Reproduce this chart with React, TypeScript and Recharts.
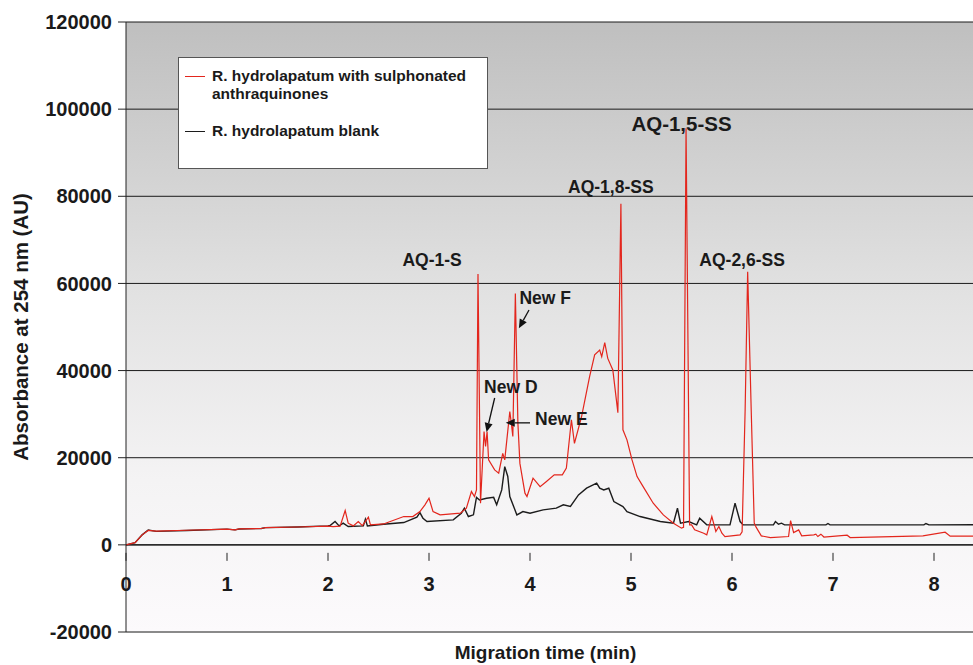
import {
  LineChart,
  Line,
  CartesianGrid,
  XAxis,
  YAxis,
  ReferenceLine,
  ReferenceDot,
} from "recharts";

// electropherogram (time in min, absorbance in AU)
const sampleTime = [
  0, 0.09, 0.16, 0.22, 0.3, 0.6, 1.0, 1.08, 1.12, 1.34, 1.38, 1.7, 2.0, 2.05, 2.12, 2.17, 2.2, 2.25,
  2.3, 2.34, 2.4, 2.42, 2.55, 2.75, 2.84, 2.91, 2.96, 3.0, 3.04, 3.11, 3.31, 3.37, 3.42, 3.45, 3.47,
  3.485, 3.51, 3.545, 3.56, 3.575, 3.59, 3.65, 3.69, 3.73, 3.75, 3.8, 3.815, 3.83, 3.855, 3.88, 3.9,
  3.95, 3.97, 4.03, 4.1, 4.16, 4.24, 4.32, 4.36, 4.41, 4.44, 4.51, 4.59, 4.64, 4.69, 4.71, 4.74,
  4.77, 4.82, 4.87, 4.9, 4.92, 4.96, 5.01, 5.06, 5.12, 5.22, 5.32, 5.42, 5.5, 5.52, 5.545, 5.58,
  5.6, 5.63, 5.72, 5.75, 5.8, 5.84, 5.87, 5.9, 5.93, 6.08, 6.1, 6.13, 6.155, 6.19, 6.22, 6.24, 6.29,
  6.38, 6.56, 6.58, 6.61, 6.66, 6.69, 6.81, 6.83, 6.85, 6.88, 6.91, 7.14, 7.17, 7.89, 8.11, 8.16,
  8.4,
];
const sampleAbs = [
  0, 500, 2300, 3300, 3150, 3350, 3600, 3450, 3650, 3750, 3950, 4100, 4300, 4200, 4300, 7870, 4970,
  4350, 5350, 4430, 6350, 4590, 4800, 6500, 6500, 7640, 9180, 10700, 7640, 6880, 7270, 8420, 12230,
  11100, 12600, 62170, 9560, 26000, 22560, 26000, 19500, 17200, 16450, 21000, 19500, 30600, 27900,
  24860, 57700, 28000, 18700, 11860, 11100, 15300, 13370, 14500, 16060, 16060, 17600, 28700, 23300,
  29400, 38600, 43600, 44700, 43200, 46400, 42800, 40150, 30350, 78300, 26400, 24100, 19500, 15670,
  13370, 9560, 6880, 4970, 3830, 4000, 95600, 4600, 4590, 3440, 2680, 2300, 6500, 3060, 4200, 2680,
  1910, 2300, 3000, 31000, 62700, 31000, 5000, 4000, 2060, 1680, 1910, 5580, 2830, 3440, 2060, 2300,
  2450, 1910, 2450, 1800, 2220, 1680, 2060, 2910, 2000, 2000,
];

const blankTime = [
  0, 0.09, 0.16, 0.22, 0.3, 0.6, 1.0, 1.08, 1.12, 1.34, 1.38, 1.7, 2.0, 2.02, 2.07, 2.11, 2.15, 2.2,
  2.35, 2.37, 2.39, 2.55, 2.75, 2.88, 2.91, 2.94, 2.98, 3.24, 3.32, 3.35, 3.39, 3.44, 3.47, 3.5,
  3.57, 3.64, 3.67, 3.72, 3.75, 3.78, 3.8, 3.87, 3.93, 4.0, 4.13, 4.26, 4.33, 4.4, 4.48, 4.56, 4.66,
  4.69, 4.73, 4.78, 4.83, 4.92, 4.96, 5.09, 5.29, 5.42, 5.46, 5.49, 5.57, 5.65, 5.68, 5.75, 5.98,
  6.03, 6.08, 6.11, 6.41, 6.43, 6.46, 6.49, 6.52, 6.93, 6.95, 6.97, 7.9, 7.92, 7.95, 8.4,
];
const blankAbs = [
  0, 500, 2300, 3400, 3100, 3300, 3600, 3450, 3650, 3750, 3950, 4100, 4350, 4430, 5350, 4350, 4970,
  4200, 4350, 5900, 4350, 4740, 5120, 6350, 7400, 6120, 5350, 5730, 7270, 8400, 6500, 6900, 10900,
  10300, 10700, 10900, 9200, 12600, 17960, 15700, 11100, 6880, 7640, 7270, 8030, 8420, 9180, 8800,
  11470, 13000, 14150, 13000, 12600, 13000, 9930, 8800, 7640, 6500, 5350, 4970, 8400, 4970, 5350,
  4590, 6120, 4590, 4590, 9560, 5350, 4590, 4590, 5350, 4740, 4970, 4590, 4590, 4900, 4590, 4590,
  4900, 4590, 4600,
];

const seriesNames = ["R. hydrolapatum with sulphonated anthraquinones", "R. hydrolapatum blank"];
const seriesColors = ["#e3261d", "#1c1c1c"];

const xTicks = [0, 1, 2, 3, 4, 5, 6, 7, 8];
const yTicks = [-20000, 0, 20000, 40000, 60000, 80000, 100000, 120000];

// peak labels: [text, time, absorbance, size]
const peakLabels: [string, number, number, number][] = [
  ["AQ-1-S", 3.03, 65400, 17.5],
  ["New F", 4.15, 56700, 17.5],
  ["New D", 3.81, 36200, 17.5],
  ["New E", 4.31, 28900, 17.5],
  ["AQ-1,8-SS", 4.8, 82100, 17.5],
  ["AQ-1,5-SS", 5.5, 96800, 20.5],
  ["AQ-2,6-SS", 6.1, 65400, 17.5],
];

// arrows: from (t, abs) to (t, abs)
const arrows: [number, number, number, number][] = [
  [3.99, 53900, 3.89, 49700],
  [3.65, 33700, 3.57, 25900],
  [4.0, 28000, 3.76, 28000],
];

const W = 973;
const H = 665;
const TOP = 22;
const BOTTOM = 33;
const LEFT = 126;
const Y_MIN = -20000;
const Y_MAX = 120000;
const X_MAX = 8.386;
const FONT = "'Liberation Sans', Arial, Helvetica, sans-serif";

const zeroOffset = ((H - TOP - BOTTOM) * (0 - Y_MIN)) / (Y_MAX - Y_MIN);

const sampleData = sampleTime.map((t, i) => ({ t, v: sampleAbs[i] }));
const blankData = blankTime.map((t, i) => ({ t, v: blankAbs[i] }));

function XTick(props: any) {
  const { x, y, payload } = props;
  const y0 = y - zeroOffset;
  return (
    <g>
      <line x1={x} y1={y0} x2={x} y2={y0 + 8} stroke="#222" />
      <text
        x={x}
        y={y0 + 38}
        textAnchor="middle"
        fontFamily={FONT}
        fontWeight="bold"
        fontSize={20}
        fill="#1a1a1a"
      >
        {payload.value}
      </text>
    </g>
  );
}

function Arrow(props: any) {
  const { x1, y1, x2, y2 } = props;
  if ([x1, y1, x2, y2].some((v) => typeof v !== "number")) return null;
  const a = Math.atan2(y2 - y1, x2 - x1);
  const L = 9;
  const w = 4;
  const bx = x2 - L * Math.cos(a);
  const by = y2 - L * Math.sin(a);
  const px = -Math.sin(a) * w;
  const py = Math.cos(a) * w;
  return (
    <g>
      <line x1={x1} y1={y1} x2={bx} y2={by} stroke="#111" strokeWidth={1.3} />
      <polygon points={`${x2},${y2} ${bx + px},${by + py} ${bx - px},${by - py}`} fill="#111" />
    </g>
  );
}

export default function App() {
  return (
    <div style={{ position: "absolute", left: 0, top: 0, width: W, height: H, background: "#fff" }}>
      <LineChart
        width={W}
        height={H}
        margin={{ top: TOP, right: 0, bottom: 0, left: 0 }}
      >
        <defs>
          <linearGradient id="plotBg" x1="0" y1="0" x2="0" y2="1">
            <stop offset="0%" stopColor="#bfbfbf" />
            <stop offset="45%" stopColor="#e2e2e2" />
            <stop offset="75%" stopColor="#f4f3f4" />
            <stop offset="100%" stopColor="#fcfafc" />
          </linearGradient>
        </defs>
        <CartesianGrid vertical={false} stroke="#1a1a1a" fill="url(#plotBg)" />
        <XAxis
          type="number"
          dataKey="t"
          domain={[0, X_MAX]}
          ticks={xTicks}
          allowDataOverflow
          height={BOTTOM}
          tickLine={false}
          axisLine={{ stroke: "#8a8a8a", strokeWidth: 1.5 }}
          tick={<XTick />}
          label={{
            content: (p: any) => (
              <text
                x={p.viewBox.x + p.viewBox.width / 2 - 4}
                y={p.viewBox.y + 27}
                textAnchor="middle"
                fontFamily={FONT}
                fontWeight="bold"
                fontSize={19}
                fill="#1a1a1a"
              >
                Migration time (min)
              </text>
            ),
          }}
        />
        <YAxis
          type="number"
          domain={[Y_MIN, Y_MAX]}
          ticks={yTicks}
          width={LEFT}
          tickSize={8}
          tickMargin={6}
          axisLine={{ stroke: "#222" }}
          tickLine={{ stroke: "#222" }}
          tick={{ fontFamily: FONT, fontWeight: "bold", fontSize: 20, fill: "#1a1a1a" }}
          label={{
            content: (p: any) => {
              const cx = 20;
              const cy = p.viewBox.y + p.viewBox.height / 2;
              return (
                <text
                  x={cx}
                  y={cy}
                  transform={`rotate(-90 ${cx} ${cy})`}
                  textAnchor="middle"
                  dominantBaseline="central"
                  fontFamily={FONT}
                  fontWeight="bold"
                  fontSize={20.5}
                  fill="#1a1a1a"
                >
                  Absorbance at 254 nm (AU)
                </text>
              );
            },
          }}
        />
        <ReferenceLine y={0} stroke="#1a1a1a" strokeWidth={1.3} />
        <Line
          data={blankData}
          dataKey="v"
          type="linear"
          dot={false}
          stroke={seriesColors[1]}
          strokeWidth={1.4}
          isAnimationActive={false}
        />
        <Line
          data={sampleData}
          dataKey="v"
          type="linear"
          dot={false}
          stroke={seriesColors[0]}
          strokeWidth={1.2}
          isAnimationActive={false}
        />
        {arrows.map(([t1, v1, t2, v2], i) => (
          <ReferenceLine
            key={"a" + i}
            segment={[
              { x: t1, y: v1 },
              { x: t2, y: v2 },
            ]}
            shape={(p: any) => <Arrow {...p} />}
          />
        ))}
        {peakLabels.map(([text, t, v, size]) => (
          <ReferenceDot
            key={text}
            x={t}
            y={v}
            r={0}
            shape={(p: any) => (
              <text
                x={p.cx}
                y={p.cy}
                textAnchor="middle"
                dominantBaseline="central"
                fontFamily={FONT}
                fontWeight="bold"
                fontSize={size}
                fill="#1a1a1a"
              >
                {text}
              </text>
            )}
          />
        ))}
      </LineChart>
      <div
        style={{
          position: "absolute",
          left: 178,
          top: 57,
          width: 308,
          height: 110,
          background: "#fff",
          border: "1px solid #555",
          fontFamily: FONT,
          fontWeight: "bold",
          fontSize: 15.5,
          lineHeight: "18px",
          color: "#1a1a1a",
        }}
      >
        {seriesNames.map((name, i) => (
          <div
            key={name}
            style={{ position: "absolute", left: 6, top: i === 0 ? 9 : 64, display: "flex" }}
          >
            <span
              style={{
                display: "inline-block",
                width: 20,
                height: 0,
                borderTop: `1.5px solid ${seriesColors[i]}`,
                marginTop: 9,
                marginRight: 7,
              }}
            />
            <span style={{ width: 275 }}>{name}</span>
          </div>
        ))}
      </div>
    </div>
  );
}
